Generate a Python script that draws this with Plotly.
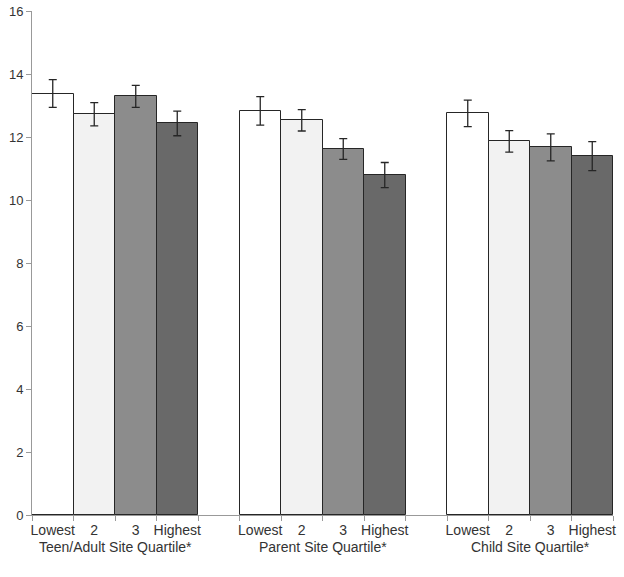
import plotly.graph_objects as go

groups = ["Teen/Adult Site Quartile*", "Parent Site Quartile*", "Child Site Quartile*"]
quartiles = ["Lowest", "2", "3", "Highest"]
teen_means = [13.38, 12.72, 13.29, 12.43]
teen_errs = [0.44, 0.37, 0.35, 0.39]
parent_means = [12.83, 12.53, 11.62, 10.79]
parent_errs = [0.45, 0.34, 0.33, 0.40]
child_means = [12.75, 11.86, 11.67, 11.39]
child_errs = [0.42, 0.34, 0.43, 0.46]
bar_colors = ["#ffffff", "#f2f2f2", "#8c8c8c", "#696969"]

means = [teen_means, parent_means, child_means]
errs = [teen_errs, parent_errs, child_errs]

fig = go.Figure()
# one trace per quartile; each group takes 4 slots plus a blank slot
for i, q in enumerate(quartiles):
    fig.add_trace(go.Bar(
        x=[g * 5 + i for g in range(len(groups))],
        y=[m[i] for m in means],
        width=1,
        marker=dict(color=bar_colors[i], line=dict(color="#262626", width=1)),
        error_y=dict(type="data", array=[e[i] for e in errs], color="#262626", thickness=1.3, width=4),
        name=q,
        showlegend=False,
    ))

centers = [g * 5 + i for g in range(len(groups)) for i in range(len(quartiles))]
labels = [q for g in range(len(groups)) for q in quartiles]
# invisible trace to carry the category labels axis
fig.add_trace(go.Scatter(x=centers, y=[0] * len(centers), xaxis="x2", mode="markers",
                         marker=dict(opacity=0), showlegend=False, hoverinfo="skip"))

for g, name in enumerate(groups):
    fig.add_annotation(x=g * 5 + 1.5, y=0, xref="x", yref="paper", yanchor="middle", yshift=-32,
                       text=name, showarrow=False, font=dict(size=14, color="#333333"))

fig.update_layout(
    width=624, height=577,
    margin=dict(l=32, r=11, t=11, b=62, autoexpand=False),
    plot_bgcolor="white", paper_bgcolor="white",
    font=dict(family="Liberation Sans, Arial, sans-serif", size=13, color="#333333"),
    bargap=0,
    xaxis=dict(range=[-0.5, 13.5], tickvals=[v - 0.5 for v in range(15)], showticklabels=False,
               ticks="outside", ticklen=5, tickcolor="#999999", showline=True, linecolor="#999999",
               showgrid=False, zeroline=False, automargin=False),
    xaxis2=dict(range=[-0.5, 13.5], overlaying="x", side="bottom", anchor="y",
                tickvals=centers, ticktext=labels, ticks="", showline=False, showgrid=False,
                zeroline=False, automargin=False, ticklabelstandoff=5,
                tickfont=dict(size=14, color="#333333")),
    yaxis=dict(range=[0, 16], dtick=2, ticks="outside", ticklen=5, tickcolor="#999999",
               showline=True, linecolor="#999999", showgrid=False, zeroline=False,
               automargin=False, tickfont=dict(size=13, color="#333333")),
)

fig.write_html("out.html", config={"displayModeBar": False},
               post_script="document.body.style.margin='0';")
